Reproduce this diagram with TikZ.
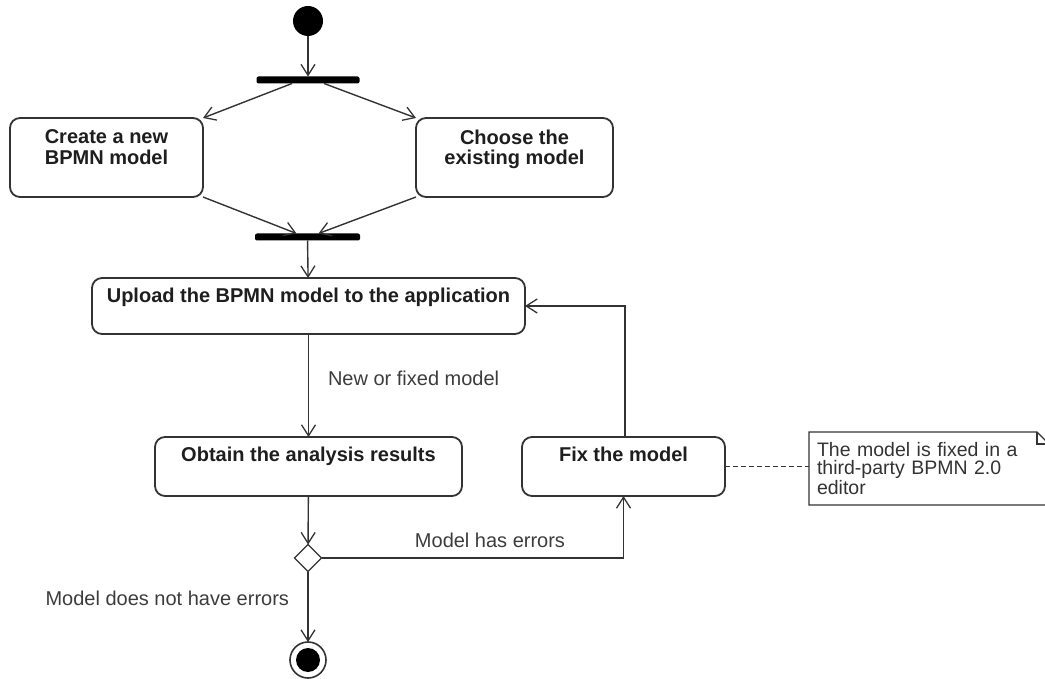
\documentclass[tikz,border=0pt]{standalone}
\usepackage{fontspec}
\setmainfont{Liberation Sans}
\usetikzlibrary{shapes.geometric,arrows.meta}
\definecolor{ink}{HTML}{333333}
\definecolor{txt}{HTML}{3C3C3C}
\definecolor{boldtxt}{HTML}{1E1E1E}
\begin{document}
\begin{tikzpicture}[x=1pt,y=-1pt,
  every node/.style={inner sep=0pt, outer sep=0pt},
  flow/.style={draw=ink, line width=1.4pt, -{Straight Barb[length=11pt,width=14pt,line width=1.3pt]}},
  plain/.style={draw=ink, line width=1.3pt},
  action/.style={draw=ink, line width=1.8pt, rounded corners=10pt, rectangle},
  title/.style={font=\fontsize{20}{20.5}\selectfont\bfseries, text=boldtxt, align=center, anchor=north},
  caption/.style={font=\fontsize{20}{18}\selectfont, text=txt},
  notetext/.style={font=\fontsize{19.5}{18}\selectfont, text=ink},
  bar/.style={fill=black, rectangle, rounded corners=2pt, minimum height=7pt},
]
\useasboundingbox (0,0) rectangle (1045,679);
\clip (0,0) rectangle (1045,679);

% initial node and fork
\node[circle, fill=black, minimum size=30pt] (start) at (308,21) {};
\node[bar, minimum width=103pt] (fork) at (308,80) {};

% actions
\node[action, minimum width=193pt, minimum height=79pt,
  label={[title, yshift=-12pt]north:{Create a new\\BPMN model}}] (create) at (106.5,157.5) {};
\node[action, minimum width=197pt, minimum height=79pt,
  label={[title, yshift=-12pt]north:{Choose the\\existing model}}] (choose) at (514.5,157.5) {};
\node[bar, minimum width=105pt] (join) at (307.5,237) {};
\node[action, minimum width=433pt, minimum height=56pt,
  label={[title, yshift=-10pt]north:{Upload the BPMN model to the application}}] (upload) at (308.5,306) {};
\node[action, minimum width=307pt, minimum height=59pt,
  label={[title, yshift=-10pt]north:{Obtain the analysis results}}] (obtain) at (308.5,466.5) {};
\node[action, minimum width=203pt, minimum height=59pt,
  label={[title, yshift=-10pt]north:{Fix the model}}] (fix) at (623.5,466.5) {};

% decision and final node
\node[diamond, draw=ink, line width=1.4pt, minimum width=27pt, minimum height=27pt, aspect=1] (decision) at (308,558) {};
\node[circle, draw=ink, line width=1.6pt, minimum size=36pt] (final) at (308,660) {};
\node[circle, fill=black, minimum size=24pt] (finaldot) at (final.center) {};

% comment note with folded corner
\node[notetext, align=left, text width=224pt, inner xsep=8pt,
  minimum width=240pt, minimum height=73pt, anchor=north west] (note) at (809,432)
  {The model is fixed in a\\third-party BPMN 2.0\\editor};
\draw[plain] (note.north west) -- ([xshift=-12pt]note.north east) -- ([yshift=-12pt]note.north east)
  -- (note.south east) -- (note.south west) -- cycle;
\draw[plain] ([xshift=-12pt]note.north east) -- ([xshift=-12pt,yshift=-12pt]note.north east)
  -- ([yshift=-12pt]note.north east);

% control flow
\draw[flow] (start) -- (fork);
\draw[flow] ([xshift=-16pt]fork.south) -- (create.north east);
\draw[flow] ([xshift=16pt]fork.south) -- (choose.north west);
\draw[flow] (create.south east) -- ([xshift=-11pt]join.north);
\draw[flow] (choose.south west) -- ([xshift=11pt]join.north);
\draw[flow] (join) -- (upload);
\draw[flow] (upload) -- (obtain);
\draw[flow] (obtain) -- (decision);
\draw[flow] (decision.east) -| (fix.south);
\draw[flow] ([xshift=1.5pt]fix.north) |- (upload.east);
\draw[plain, dash pattern=on 5pt off 3pt] (fix.east) -- (fix.east -| note.west);
\draw[flow] (decision) -- (final);

% guard labels
\node[caption, anchor=west] (lblnew) at (328,378) {New or fixed model};
\node[caption] (lblerr) at (490,540) {Model has errors};
\node[caption, anchor=east] (lblok) at (289,598) {Model does not have errors};
\end{tikzpicture}
\end{document}
